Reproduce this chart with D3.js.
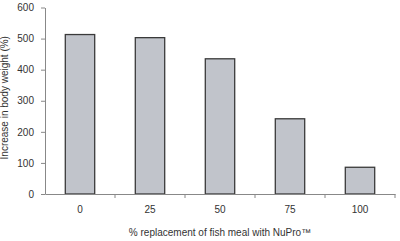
<!DOCTYPE html>
<html>
<head>
<meta charset="utf-8">
<script src="https://cdn.jsdelivr.net/npm/d3@7"></script>
<style>
body { margin: 0; background: #fff; }
text { font-family: "Liberation Sans", Arial, sans-serif; fill: #333; }
</style>
</head>
<body>
<div id="chart-area"></div>
<script>
// data
var categories = ["0", "25", "50", "75", "100"];
var values = [513, 503, 435, 242, 86];
var yTicks = [0, 100, 200, 300, 400, 500, 600];

var margin = {top: 7.5, bottom: 47, left: 45, right: 5};
var width = 400 - margin.left - margin.right;
var height = 241 - margin.top - margin.bottom;

var svg = d3.select("#chart-area").append("svg")
    .attr("width", 400)
    .attr("height", 241);

var g = svg.append("g")
    .attr("transform", "translate(" + margin.left + "," + margin.top + ")");

var x = d3.scaleBand()
    .domain(categories)
    .range([0, width])
    .padding(0);

var y = d3.scaleLinear()
    .domain([0, 600])
    .range([height, 0]);

// bars sit in the middle of each category slot
var barW = x.bandwidth() * 0.42;

g.selectAll("rect.bar")
    .data(values)
    .enter().append("rect")
    .attr("class", "bar")
    .attr("x", (d, i) => x(categories[i]) + (x.bandwidth() - barW) / 2)
    .attr("y", (d) => y(d))
    .attr("width", barW)
    .attr("height", (d) => height - y(d))
    .attr("fill", "#c1c4cb")
    .attr("stroke", "#3a3a3a")
    .attr("stroke-width", 1.3);

// y axis
var leftAxis = d3.axisLeft(y)
    .tickValues(yTicks)
    .tickSize(4)
    .tickSizeOuter(0)
    .tickPadding(7);

var yAxisGroup = g.append("g").call(leftAxis);
yAxisGroup.select(".domain").attr("stroke", "#888");
yAxisGroup.selectAll(".tick line").attr("stroke", "#888");
yAxisGroup.selectAll("text")
    .attr("font-size", "10px")
    .style("fill", "#333");

// x axis: labels at centres, ticks at category boundaries
var bottomAxis = d3.axisBottom(x)
    .tickSize(0)
    .tickSizeOuter(0)
    .tickPadding(12);

var xAxisGroup = g.append("g")
    .attr("transform", "translate(0," + height + ")")
    .call(bottomAxis);
xAxisGroup.select(".domain").attr("stroke", "#888");
xAxisGroup.selectAll("text")
    .attr("font-size", "10px")
    .style("fill", "#333");

var bounds = categories.map((c) => x(c) + x.bandwidth());
xAxisGroup.selectAll("line.bound")
    .data(bounds)
    .enter().append("line")
    .attr("class", "bound")
    .attr("x1", (d) => d)
    .attr("x2", (d) => d)
    .attr("y1", 0)
    .attr("y2", 4)
    .attr("stroke", "#888");

// axis labels
g.append("text")
    .attr("x", -(height / 2) + 3)
    .attr("y", -37)
    .attr("font-size", "10px")
    .attr("text-anchor", "middle")
    .attr("transform", "rotate(-90)")
    .text("Increase in body weight (%)");

g.append("text")
    .attr("x", width / 2)
    .attr("y", height + 42)
    .attr("font-size", "10px")
    .attr("text-anchor", "middle")
    .text("% replacement of fish meal with NuPro™");
</script>
</body>
</html>
